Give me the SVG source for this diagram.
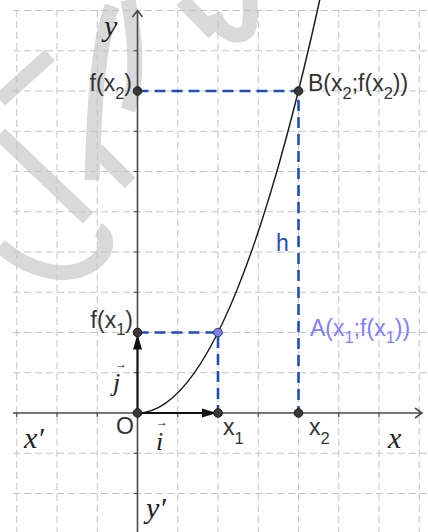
<svg xmlns="http://www.w3.org/2000/svg" width="428" height="532" viewBox="0 0 428 532">
<style>
.wm{fill:none;stroke:#d9d9d9;stroke-width:15;stroke-linecap:butt}
.grid{fill:none;stroke:#c4c4c4;stroke-width:1;stroke-dasharray:7 4}
.axis{fill:none;stroke:#4a4a4a;stroke-width:1.6}
.tick{fill:none;stroke:#4a4a4a;stroke-width:1.2}
.curve{fill:none;stroke:#1a1a1a;stroke-width:1.5}
.blue{fill:none;stroke:#1f4fb3;stroke-width:2.6;stroke-dasharray:11 6}
.vec{fill:none;stroke:#111;stroke-width:2}
.head{fill:#111}
.pt{fill:#383838;stroke:#1a1a1a;stroke-width:1}
.ptA{fill:#7f7fff;stroke:#333;stroke-width:1}
.lbl{font-family:"Liberation Sans",Arial,sans-serif;font-size:23px;fill:#333}
.sub{font-size:16.5px}
.math{font-family:"Liberation Serif","Times New Roman",serif;font-style:italic;font-size:30px;fill:#222}
.vl{font-family:"Liberation Serif","Times New Roman",serif;font-style:italic;font-size:26px;fill:#222}
.acc{font-family:"Liberation Serif","DejaVu Serif",serif;font-size:12px;fill:#222}
</style>
<rect width="428" height="532" fill="#fff"/>
<g id="watermark">
<path class="wm" d="M0,134 L88,218"/>
<path class="wm" d="M0,246 C30,272 70,282 95,262 C110,250 108,235 98,230"/>
<path class="wm" d="M0,100 L50,55"/>
<path class="wm" d="M92,180 C94,120 96,50 112,6"/>
<path class="wm" d="M128,0 C136,40 138,80 128,110"/>
<path class="wm" d="M97,150 L130,183"/>
<path class="wm" d="M182,0 L214,33"/>
<path class="wm" d="M214,14 C222,36 240,40 248,30 C252,20 250,8 250,0"/>
</g>
<g id="grid">
<path class="grid" d="M16.75,10V532M57,10V532M97.25,10V532M177.75,10V532M218,10V532M258.25,10V532M298.5,10V532M338.75,10V532M379,10V532M419.25,10V532"/>
<path class="grid" d="M13,10.5H428M13,50.75H428M13,91H428M13,131.25H428M13,171.5H428M13,211.75H428M13,252H428M13,292.25H428M13,332.5H428M13,372.75H428M13,453.25H428M13,493.5H428"/>
</g>
<g id="axes">
<path class="axis" d="M13,413H421M415,408L422,413L415,418"/>
<path class="axis" d="M137.5,532V11M132.5,17L137.5,10.5L142.5,17"/>
<path class="tick" d="M133.5,50.75H137.5M133.5,91H137.5M133.5,131.25H137.5M133.5,171.5H137.5M133.5,211.75H137.5M133.5,252H137.5M133.5,292.25H137.5M133.5,332.5H137.5M133.5,372.75H137.5M133.5,453.25H137.5M133.5,493.5H137.5"/>
<path class="tick" d="M16.75,413V417M57,413V417M97.25,413V417M177.75,413V417M218,413V417M258.25,413V417M298.5,413V417M338.75,413V417M379,413V417"/>
</g>
<g id="connectors">
<path class="blue" d="M137.5,91H298.5V413"/>
<path class="blue" d="M137.5,332.5H218V413"/>
<path class="curve" d="M137.5,413Q229,413 320.4,-3.1"/>
</g>
<g id="vector-i">
<path class="vec" d="M137.5,413H205"/>
<path class="head" d="M217,413L202,408.5L202,417.5Z"/>
<text class="acc" x="156" y="426">→</text>
<text class="vl" x="156" y="450">i</text>
</g>
<g id="vector-j">
<path class="vec" d="M137.5,413V347"/>
<path class="head" d="M137.5,334L133,349.5L142,349.5Z"/>
<text class="acc" x="115" y="368">→</text>
<text class="vl" x="113" y="391">j</text>
</g>
<g id="point-O">
<circle class="pt" cx="137.5" cy="413" r="4.3"/>
<text class="lbl" x="116" y="434">O</text>
</g>
<g id="point-x1">
<circle class="pt" cx="218" cy="413" r="4.3"/>
<text class="lbl" x="223" y="435">x<tspan class="sub" dy="9">1</tspan></text>
</g>
<g id="point-x2">
<circle class="pt" cx="298.5" cy="413" r="4.3"/>
<text class="lbl" x="309" y="435">x<tspan class="sub" dy="9">2</tspan></text>
</g>
<g id="point-fx1">
<circle class="pt" cx="137.5" cy="332.5" r="4.3"/>
<text class="lbl" x="133" y="328" text-anchor="end">f(x<tspan class="sub" dy="7">1</tspan><tspan dy="-7">)</tspan></text>
</g>
<g id="point-fx2">
<circle class="pt" cx="137.5" cy="91" r="4.3"/>
<text class="lbl" x="132" y="91" text-anchor="end">f(x<tspan class="sub" dy="8">2</tspan><tspan dy="-8">)</tspan></text>
</g>
<g id="point-A">
<circle class="ptA" cx="218" cy="332.5" r="4.3"/>
<text class="lbl" x="310" y="336" style="fill:#8080ff">A(x<tspan class="sub" dy="7">1</tspan><tspan dy="-7">;f(x</tspan><tspan class="sub" dy="7">1</tspan><tspan dy="-7">))</tspan></text>
</g>
<g id="point-B">
<circle class="pt" cx="298.5" cy="91" r="4.3"/>
<text class="lbl" x="308" y="91">B(x<tspan class="sub" dy="8">2</tspan><tspan dy="-8">;f(x</tspan><tspan class="sub" dy="8">2</tspan><tspan dy="-8">))</tspan></text>
</g>
<g id="label-h">
<text class="lbl" x="276" y="251" style="fill:#1f4fb3">h</text>
</g>
<g id="axis-labels">
<text class="math" x="104" y="36">y</text>
<text class="math" x="146" y="518">y′</text>
<text class="math" x="388" y="448">x</text>
<text class="math" x="24" y="448">x′</text>
</g>
</svg>
